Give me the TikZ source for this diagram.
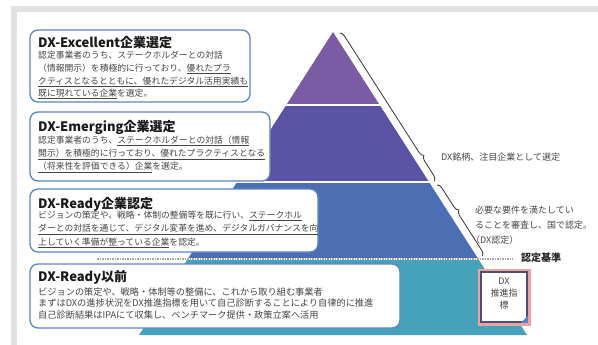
\documentclass[tikz,border=0pt]{standalone}
\usepackage{fontspec}
\setmainfont{Noto Sans CJK JP}
\usetikzlibrary{decorations.pathreplacing}
\definecolor{pPurple}{HTML}{7B5CA4}
\definecolor{pIndigo}{HTML}{5A52A3}
\definecolor{pBlue}{HTML}{4B6FB2}
\definecolor{pTeal}{HTML}{46A2BA}
\definecolor{boxline}{HTML}{5A85C4}
\definecolor{framegray}{HTML}{E2E2E2}
\definecolor{bodytxt}{HTML}{454545}
\definecolor{dxline}{HTML}{4A5072}
\definecolor{dxglow}{HTML}{E9A3A3}
\newcommand\uln[1]{\underline{#1}}
\begin{document}
\begin{tikzpicture}[x=1pt,y=-1pt,
  infobox/.style={draw=boxline, line width=1.3pt, fill=white, rounded corners=8pt, inner sep=0pt},
  ttl/.style={anchor=base west, inner sep=0pt, font=\fontsize{13}{15}\selectfont\bfseries, text=black!90},
  bodyline/.style={anchor=base west, inner sep=0pt, font=\fontsize{8.8}{10}\selectfont, text=bodytxt},
  bodyfour/.style={anchor=base west, inner sep=0pt, font=\fontsize{9.2}{10}\selectfont, text=bodytxt},
  note/.style={anchor=base west, inner sep=0pt, font=\fontsize{9}{10}\selectfont, text=bodytxt},
  bracestyle/.style={decorate, draw=black!80, line width=0.8pt},
  sepline/.style={white, line width=1.5pt}
]
\useasboundingbox (0,0) rectangle (598,345);
% frame
\fill[framegray] (11,6) rectangle (598,12);
\fill[framegray] (11,6) rectangle (17,345);
% pyramid
\fill[pPurple] (333,32) -- (379.7,105) -- (286.3,105) -- cycle;
\fill[pIndigo] (286.3,105) -- (379.7,105) -- (429,182) -- (237,182) -- cycle;
\fill[pBlue] (237,182) -- (429,182) -- (478.3,259) -- (187.7,259) -- cycle;
\fill[pTeal] (187.7,259) -- (478.3,259) -- (527,335) -- (139,335) -- cycle;
\draw[sepline] (284,105) -- (382,105);
\draw[sepline] (234,182) -- (431,182);
\draw[white, line width=2.5pt] (186,259) -- (480,259);
\draw[gray!70, line width=1.1pt, dash pattern=on 1.5pt off 1pt] (97,259) -- (513,259);
% boxes
\node[infobox, minimum width=220pt, minimum height=72pt] (b1) at (140,66) {};
\node[infobox, minimum width=240pt, minimum height=69pt] (b2) at (150,146.5) {};
\node[infobox, minimum width=288pt, minimum height=63pt] (b3) at (174,220.5) {};
\node[infobox, minimum width=370pt, minimum height=64pt] (b4) at (215,296) {};
% box 1
\node[ttl] (t1) at (38,47.7) {DX-Excellent企業選定};
\node[bodyline] (t1a) at (38,58.5) {認定事業者のうち、ステークホルダーとの対話};
\node[bodyline] (t1b) at (38,71.5) {（情報開示）を積極的に行っており、\uln{優れたプラ}};
\node[bodyline] (t1c) at (38,84.5) {\uln{クティスとなるとともに、優れたデジタル活用実績も}};
\node[bodyline] (t1d) at (38,96.5) {\uln{既に現れている企業}を選定。};
% box 2
\node[ttl] (t2) at (38,131.4) {DX-Emerging企業選定};
\node[bodyline] (t2a) at (38,143.3) {認定事業者のうち、\uln{ステークホルダーとの対話（情報}};
\node[bodyline] (t2b) at (38,156.6) {\uln{開示）を積極的に行っており、優れたプラクティスとなる}};
\node[bodyline] (t2c) at (38,170) {\uln{（将来性を評価できる）企業}を選定。};
% box 3
\node[ttl] (t3) at (38,208) {DX-Ready企業認定};
\node[bodyline] (t3a) at (38,218.3) {ビジョンの策定や、戦略・体制の整備等を既に行い、\uln{ステークホル}};
\node[bodyline] (t3b) at (38,231.6) {\uln{ダーとの対話を通じて、デジタル変革を進め、デジタルガバナンスを向}};
\node[bodyline] (t3c) at (38,245) {\uln{上していく準備が整っている企業}を認定。};
% box 4
\node[ttl] (t4) at (38,281.4) {DX-Ready以前};
\node[bodyfour] (t4a) at (38,295.3) {ビジョンの策定や、戦略・体制等の整備に、これから取り組む事業者};
\node[bodyfour] (t4b) at (38,306.8) {まずはDXの進捗状況をDX推進指標を用いて自己診断することにより自律的に推進};
\node[bodyfour] (t4c) at (38,318.3) {自己診断結果はIPAにて収集し、ベンチマーク提供・政策立案へ活用};
% braces
\coordinate (br1s) at (339.6,33);
\coordinate (br1e) at (434.4,181);
\coordinate (br2s) at (437,185);
\coordinate (br2e) at (482.4,256);
\draw[bracestyle, decoration={brace, amplitude=5pt, aspect=0.845}] (br1s) -- (br1e);
\draw[bracestyle, decoration={brace, amplitude=5pt, aspect=0.39}] (br2s) -- (br2e);
\node[note] (n1) at (441,160.5) {DX銘柄、注目企業として選定};
\node[note] (n2a) at (475,213.4) {必要な要件を満たしてい};
\node[note] (n2b) at (475,228.4) {ることを審査し、国で認定。};
\node[note] (n2c) at (471,243.4) {（DX認定）};
\node[anchor=west, inner sep=0pt, font=\fontsize{10}{11}\selectfont\bfseries, text=black!85] (kijun) at (521,258) {認定基準};
% DX index box
\node[draw=dxglow, line width=3pt, minimum width=50pt, minimum height=54pt, inner sep=0pt] (dxg) at (504,297) {};
\node[draw=dxline, fill=white, line width=1.5pt, minimum width=46pt, minimum height=50pt, inner sep=0pt] (dxi) at (504,297) {};
\fill[boxline] (dxi.south east) -- ++(-7,0) -- ++(7,-7) -- cycle;
\node[align=center, inner sep=0pt, font=\fontsize{9}{12}\selectfont, text=bodytxt] (dxt) at (504,294) {DX\\推進指\\標};
\end{tikzpicture}
\end{document}
